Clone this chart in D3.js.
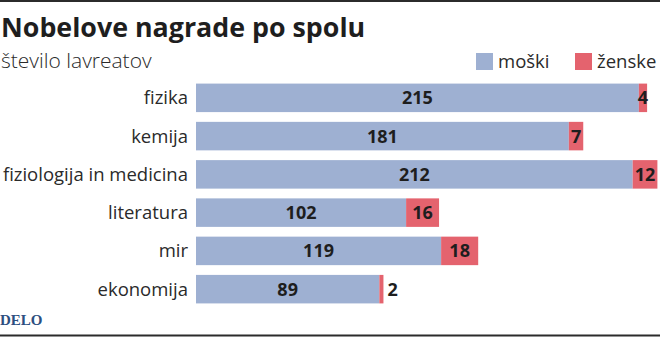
<!DOCTYPE html>
<html>
<head>
<meta charset="utf-8">
<script src="https://cdn.jsdelivr.net/npm/d3@7"></script>
<style>
  html, body { margin: 0; padding: 0; background: #fff; }
  svg { display: block; font-family: "Open Sans", "Noto Sans", sans-serif; }
</style>
</head>
<body>
<svg id="chart" width="660" height="339"></svg>
<script>
// Nobel laureates by field and gender
const categories = ["fizika", "kemija", "fiziologija in medicina", "literatura", "mir", "ekonomija"];
const men   = [215, 181, 212, 102, 119, 89];
const women = [4, 7, 12, 16, 18, 2];
const seriesNames = ["moški", "ženske"];

const colors = { men: "#9eb0d2", women: "#e4636e" };
const W = 660, H = 339;
const svg = d3.select("#chart");

// frame lines
svg.append("rect").attr("x", 0).attr("y", 0).attr("width", W).attr("height", 2).attr("fill", "#2b2b2b");
svg.append("rect").attr("x", 0).attr("y", 334.5).attr("width", W).attr("height", 2).attr("fill", "#2b2b2b");

// title & subtitle
svg.append("text").attr("x", 1).attr("y", 37)
  .attr("font-size", 26.8).attr("font-weight", 700).attr("fill", "#1e1e1e")
  .text("Nobelove nagrade po spolu");
svg.append("text").attr("x", 1).attr("y", 68)
  .attr("font-size", 21).attr("font-weight", 300).attr("fill", "#2a2a2a")
  .text("število lavreatov");

// legend
const legend = [
  { name: seriesNames[0], color: colors.men, x: 476 },
  { name: seriesNames[1], color: colors.women, x: 575 }
];
legend.forEach(d => {
  svg.append("rect").attr("x", d.x).attr("y", 53).attr("width", 17).attr("height", 17).attr("fill", d.color);
  svg.append("text").attr("x", d.x + 22).attr("y", 68)
    .attr("font-size", 18.5).attr("fill", "#2a2a2a").text(d.name);
});

// scales
const data = categories.map((c, i) => ({ cat: c, men: men[i], women: women[i] }));
const x = d3.scaleLinear().domain([0, 224]).range([196, 657.4]);
const y = d3.scaleBand().domain(categories).range([79, 308]).paddingInner(0.255).paddingOuter(0.12);

const rows = svg.append("g").selectAll("g").data(data).join("g");

rows.append("rect")
  .attr("x", x(0)).attr("y", d => y(d.cat))
  .attr("width", d => x(d.men) - x(0)).attr("height", y.bandwidth())
  .attr("fill", colors.men);
rows.append("rect")
  .attr("x", d => x(d.men)).attr("y", d => y(d.cat))
  .attr("width", d => x(d.men + d.women) - x(d.men)).attr("height", y.bandwidth())
  .attr("fill", colors.women);

// category labels
rows.append("text")
  .attr("x", 188).attr("y", d => y(d.cat) + y.bandwidth() / 2)
  .attr("dy", "0.35em").attr("text-anchor", "end")
  .attr("font-size", 18.5).attr("fill", "#2a2a2a")
  .text(d => d.cat);

// value labels
rows.append("text")
  .attr("x", d => (x(0) + x(d.men)) / 2).attr("y", d => y(d.cat) + y.bandwidth() / 2)
  .attr("dy", "0.36em").attr("text-anchor", "middle")
  .attr("font-size", 18).attr("font-weight", 700).attr("fill", "#1e1e1e")
  .text(d => d.men);
rows.append("text")
  .attr("x", d => d.women < 3 ? x(d.men + d.women) + 4 : (x(d.men) + x(d.men + d.women)) / 2)
  .attr("y", d => y(d.cat) + y.bandwidth() / 2)
  .attr("dy", "0.36em").attr("text-anchor", d => d.women < 3 ? "start" : "middle")
  .attr("font-size", 18).attr("font-weight", 700).attr("fill", "#1e1e1e")
  .text(d => d.women);

// publisher mark
svg.append("text").attr("x", 0).attr("y", 325)
  .attr("font-family", "'Liberation Serif', serif").attr("font-size", 15).attr("font-weight", 700)
  .attr("fill", "#2d4f7f").text("DELO");
</script>
</body>
</html>
